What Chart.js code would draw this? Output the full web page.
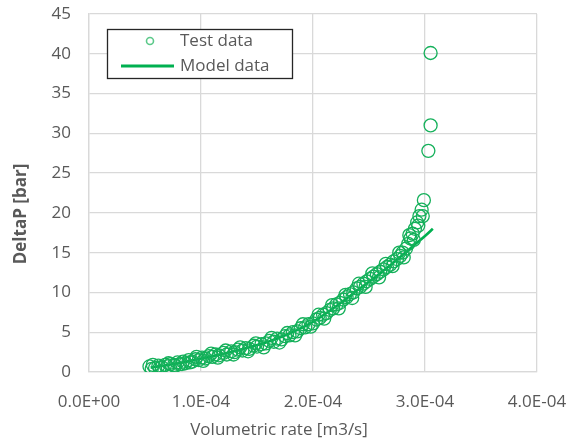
<!DOCTYPE html>
<html>
<head>
<meta charset="utf-8">
<script src="https://cdn.jsdelivr.net/npm/chart.js@4/dist/chart.umd.min.js"></script>
<style>
  html, body { margin: 0; padding: 0; background: #ffffff; }
  #wrap { width: 572px; height: 443px; }
</style>
</head>
<body>
<div id="wrap"><canvas id="c" width="572" height="443"></canvas></div>
<script>
// Measured flow rate [m3/s] and pressure drop [bar]
const testRate = [
  5.4e-5, 5.6e-5, 5.9e-5, 6.2e-5, 6.5e-5, 6.8e-5, 7.0e-5, 7.3e-5, 7.6e-5, 7.9e-5,
  8.1e-5, 8.4e-5, 8.6e-5, 8.9e-5, 9.2e-5, 9.5e-5, 9.8e-5, 1.01e-4, 1.04e-4, 1.07e-4,
  1.10e-4, 1.13e-4, 1.16e-4, 1.20e-4, 1.23e-4, 1.27e-4, 1.30e-4, 1.33e-4, 1.37e-4, 1.40e-4,
  1.43e-4, 1.47e-4, 1.50e-4, 1.54e-4, 1.58e-4, 1.61e-4, 1.65e-4, 1.68e-4, 1.72e-4, 1.75e-4,
  1.79e-4, 1.82e-4, 1.86e-4, 1.89e-4, 1.93e-4, 1.96e-4, 2.00e-4, 2.03e-4, 2.06e-4, 2.09e-4,
  2.12e-4, 2.15e-4, 2.18e-4, 2.21e-4, 2.24e-4, 2.27e-4, 2.30e-4, 2.33e-4, 2.36e-4, 2.39e-4,
  2.42e-4, 2.45e-4, 2.48e-4, 2.51e-4, 2.54e-4, 2.57e-4, 2.60e-4, 2.63e-4, 2.66e-4, 2.69e-4,
  2.72e-4, 2.75e-4, 2.78e-4, 2.80e-4, 2.83e-4, 2.85e-4, 2.87e-4, 2.89e-4, 2.91e-4, 2.93e-4,
  2.95e-4, 2.97e-4, 2.99e-4, 3.03e-4, 3.05e-4, 3.05e-4,
  5.7e-5, 6.3e-5, 7.1e-5, 7.7e-5, 8.3e-5, 9.0e-5, 9.6e-5, 1.02e-4, 1.09e-4, 1.15e-4,
  1.22e-4, 1.29e-4, 1.35e-4, 1.42e-4, 1.49e-4, 1.56e-4, 1.63e-4, 1.70e-4, 1.77e-4, 1.84e-4,
  1.91e-4, 1.98e-4, 2.05e-4, 2.10e-4, 2.17e-4, 2.23e-4, 2.29e-4, 2.35e-4, 2.41e-4, 2.47e-4,
  2.53e-4, 2.59e-4, 2.65e-4, 2.71e-4, 2.77e-4, 2.81e-4, 2.86e-4, 2.90e-4, 2.94e-4, 2.98e-4
];
const testDeltaP = [
  0.7, 0.4, 0.5, 0.8, 0.6, 0.9, 0.7, 1.0, 0.9, 1.2,
  1.0, 1.3, 1.1, 1.5, 1.3, 1.6, 1.5, 1.8, 1.7, 2.0,
  1.9, 2.2, 2.1, 2.4, 2.2, 2.6, 2.5, 2.8, 2.7, 3.0,
  2.9, 3.3, 3.2, 3.5, 3.6, 3.9, 3.8, 4.2, 4.1, 4.5,
  4.6, 5.0, 5.1, 5.5, 5.6, 6.0, 6.1, 6.6, 6.8, 7.2,
  7.4, 7.8, 8.0, 8.5, 8.7, 9.1, 9.4, 9.8, 10.0, 10.5,
  10.7, 11.1, 11.4, 11.7, 12.0, 12.3, 12.6, 12.9, 13.2, 13.5,
  13.9, 14.2, 14.6, 15.0, 15.5, 16.1, 16.8, 17.4, 18.0, 18.8,
  19.6, 20.4, 21.6, 27.8, 31.0, 40.1,
  0.9, 0.5, 1.1, 0.8, 1.0, 1.2, 1.9, 1.4, 2.3, 1.8,
  2.7, 2.2, 3.1, 2.6, 3.6, 3.1, 4.3, 3.7, 4.9, 4.6,
  6.0, 5.7, 7.2, 6.7, 8.4, 8.0, 9.7, 9.3, 11.1, 10.7,
  12.4, 11.9, 13.6, 13.3, 15.0, 14.4, 17.2, 16.6, 18.4, 19.6
];

// Model curve
const modelRate = [5.5e-5, 8.0e-5, 1.0e-4, 1.2e-4, 1.4e-4, 1.6e-4, 1.8e-4, 2.0e-4,
                   2.2e-4, 2.4e-4, 2.6e-4, 2.8e-4, 2.9e-4, 3.0e-4, 3.07e-4];
const modelDeltaP = [0.55, 1.1, 1.7, 2.3, 3.0, 3.8, 4.9, 6.3,
                     8.2, 10.3, 12.4, 14.7, 15.9, 17.1, 18.0];

// Axis ticks
const rateTicks = [0, 1e-4, 2e-4, 3e-4, 4e-4];
const deltaPTicks = [0, 5, 10, 15, 20, 25, 30, 35, 40, 45];

const seriesNames = ['Test data', 'Model data'];
const axisTitles = { x: 'Volumetric rate [m3/s]', y: 'DeltaP [bar]' };

const FONT = '"Open Sans", "Liberation Sans", sans-serif';
const TEXT = '#595959';
const GRID = '#d9d9d9';
const GREEN = '#00b050';
const MARK = '#14b05a';

function sci(v) {
  const parts = Number(v).toExponential(1).toUpperCase().split('E');
  let exp = parseInt(parts[1], 10);
  const sign = exp < 0 ? '-' : '+';
  exp = Math.abs(exp);
  return parts[0] + 'E' + sign + (exp < 10 ? '0' : '') + exp;
}

const testPoints = testRate.map((x, i) => ({ x: x, y: testDeltaP[i] }));
const modelPoints = modelRate.map((x, i) => ({ x: x, y: modelDeltaP[i] }));

// Axis titles and boxed legend drawn on the canvas
const decorations = {
  id: 'decorations',
  afterDraw(chart) {
    const ctx = chart.ctx;
    ctx.save();
    ctx.fillStyle = TEXT;
    ctx.textAlign = 'center';
    ctx.textBaseline = 'middle';
    ctx.font = '17px ' + FONT;
    ctx.fillText(axisTitles.x, 279, 430);
    // y-axis title
    ctx.translate(21, 214);
    ctx.rotate(-Math.PI / 2);
    ctx.font = 'bold 17px ' + FONT;
    ctx.fillText(axisTitles.y, 0, 0);
    ctx.restore();

    // legend box
    ctx.save();
    ctx.fillStyle = '#ffffff';
    ctx.fillRect(107, 29, 186, 50);
    ctx.strokeStyle = '#262626';
    ctx.lineWidth = 1.3;
    ctx.strokeRect(107.5, 29.5, 185, 49);

    ctx.beginPath();
    ctx.arc(150, 41, 3.5, 0, Math.PI * 2);
    ctx.strokeStyle = '#5cc98a';
    ctx.lineWidth = 1.6;
    ctx.stroke();

    ctx.beginPath();
    ctx.moveTo(121, 66);
    ctx.lineTo(174, 66);
    ctx.strokeStyle = GREEN;
    ctx.lineWidth = 3;
    ctx.stroke();

    ctx.font = '17px ' + FONT;
    ctx.fillStyle = TEXT;
    ctx.textAlign = 'left';
    ctx.textBaseline = 'middle';
    ctx.fillText(seriesNames[0], 180, 41);
    ctx.fillText(seriesNames[1], 180, 66);
    ctx.restore();
  }
};

new Chart(document.getElementById('c'), {
  type: 'scatter',
  data: {
    datasets: [
      {
        label: seriesNames[1],
        type: 'line',
        data: modelPoints,
        borderColor: GREEN,
        borderWidth: 2.6,
        pointRadius: 0,
        tension: 0.4,
        cubicInterpolationMode: 'monotone',
        fill: false,
        order: 2
      },
      {
        label: seriesNames[0],
        data: testPoints,
        pointStyle: 'circle',
        pointRadius: 6.5,
        pointBorderWidth: 1.3,
        pointBorderColor: MARK,
        pointBackgroundColor: 'rgba(0,0,0,0)',
        order: 1
      }
    ]
  },
  options: {
    responsive: false,
    animation: false,
    events: [],
    layout: { padding: { left: 0, right: 35, top: 14, bottom: 0 } },
    plugins: { legend: { display: false }, tooltip: { enabled: false } },
    scales: {
      x: {
        type: 'linear',
        min: 0,
        max: 4e-4,
        afterBuildTicks(scale) { scale.ticks = rateTicks.map(v => ({ value: v })); },
        afterFit(scale) { scale.height = 71; scale.paddingLeft = 0; scale.paddingRight = 0; },
        grid: { color: GRID, lineWidth: 1.3, drawTicks: false },
        border: { color: GRID, width: 1.3 },
        ticks: {
          padding: 20,
          color: TEXT,
          font: { family: FONT, size: 17 },
          maxRotation: 0,
          callback: v => sci(v)
        }
      },
      y: {
        type: 'linear',
        min: 0,
        max: 45,
        afterBuildTicks(scale) { scale.ticks = deltaPTicks.map(v => ({ value: v })); },
        afterFit(scale) { scale.width = 89; scale.paddingTop = 0; scale.paddingBottom = 0; },
        grid: { color: GRID, lineWidth: 1.3, drawTicks: false },
        border: { color: GRID, width: 1.3 },
        ticks: {
          padding: 18,
          color: TEXT,
          font: { family: FONT, size: 17 }
        }
      }
    }
  },
  plugins: [decorations]
});
</script>
</body>
</html>
